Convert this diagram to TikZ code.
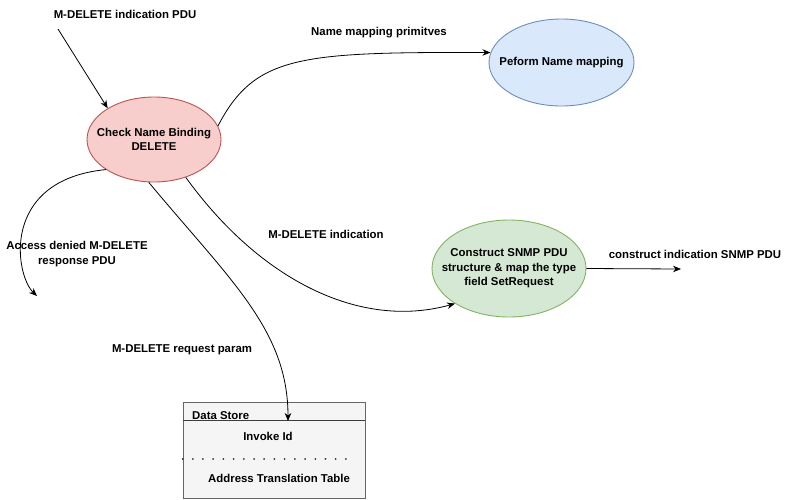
\documentclass[tikz,border=0pt]{standalone}
\usepackage{fontspec}
\setmainfont{Liberation Sans}
\usetikzlibrary{positioning,arrows.meta,shapes.geometric}
\definecolor{redfill}{HTML}{F8CECC}
\definecolor{reddraw}{HTML}{B85450}
\definecolor{bluefill}{HTML}{DAE8FC}
\definecolor{bluedraw}{HTML}{6C8EBF}
\definecolor{greenfill}{HTML}{D5E8D4}
\definecolor{greendraw}{HTML}{82B366}
\definecolor{storefill}{HTML}{F5F5F5}
\definecolor{storedraw}{HTML}{666666}
\newcommand{\dfont}{\bfseries\fontsize{11.4}{14.5}\selectfont}

\begin{document}
\begin{tikzpicture}[x=1pt,y=-1pt,
  proc/.style={ellipse,draw,line width=0.9pt,inner sep=0pt},
  lbl/.style={font=\dfont,align=center,inner sep=0pt},
  store/.style={draw=storedraw,fill=storefill,line width=0.9pt,minimum width=182pt,minimum height=96pt,inner sep=0pt},
  arr/.style={-{Stealth[length=8pt,width=6.5pt]},line width=0.8pt}]
  \useasboundingbox (0,0) rectangle (787,499);
  % processes
  \node[proc,fill=redfill,draw=reddraw,minimum width=134pt,minimum height=85pt] (chk) at (154,139.5) {};
  \node[lbl] (chktxt) at (chk) {Check Name Binding\\DELETE};
  \node[proc,fill=bluefill,draw=bluedraw,minimum width=145pt,minimum height=87pt] (pnm) at (561.5,62.5) {};
  \node[lbl] (pnmtxt) at (pnm) {Peform Name mapping};
  \node[proc,fill=greenfill,draw=greendraw,minimum width=154pt,minimum height=97pt] (csp) at (509,268.5) {};
  \node[lbl] (csptxt) at (csp) {Construct SNMP PDU\\structure \& map the type\\field SetRequest};
  % data store
  \node[store] (ds) at (274,450) {};
  \draw[storedraw!60!black,line width=1pt] ([yshift=-19pt]ds.north west) -- ([yshift=-19pt]ds.north east);
  \draw[line width=2pt,line cap=round,dash pattern=on 0.01pt off 10.2pt,black!80] ([yshift=-57pt]ds.north west) -- ([yshift=-57pt,xshift=164pt]ds.north west);
  \node[lbl,anchor=west] (dsname) at (192,416) {Data Store};
  \node[lbl] (dsid) at (268,436) {Invoke Id};
  \node[lbl] (dsatt) at (279,478) {Address Translation Table};
  % labels
  \node[lbl] (l1) at (125,14) {M-DELETE indication PDU};
  \node[lbl] (l2) at (379,33) {Name mapping primitves};
  \node[lbl] (l3) at (326,234) {M-DELETE indication};
  \node[lbl] (l4) at (695,254) {construct indication SNMP PDU};
  \node[lbl] (l5) at (77,254) {Access denied M-DELETE\\response PDU};
  \node[lbl] (l6) at (182,350) {M-DELETE request param};
  % free ends
  \coordinate (inpdu) at (58,29);
  \coordinate (denied) at (37,296);
  \coordinate (snmpout) at (681,269);
  \coordinate (dsin) at (288,421);
  % flows
  \draw[arr] (inpdu) -- (chk.146);
  \draw[arr] (chk.12) .. controls (255,55) and (300,52) .. (pnm.172);
  \draw[arr] (chk.310) .. controls (260,280) and (360,330) .. (csp.213);
  \draw[arr] (chk.212) .. controls (0,180) and (15,275) .. (denied);
  \draw[arr] (chk.263) .. controls (230,280) and (288,330) .. (dsin);
  \draw[arr] (csp.east) -- (snmpout);
\end{tikzpicture}
\end{document}
